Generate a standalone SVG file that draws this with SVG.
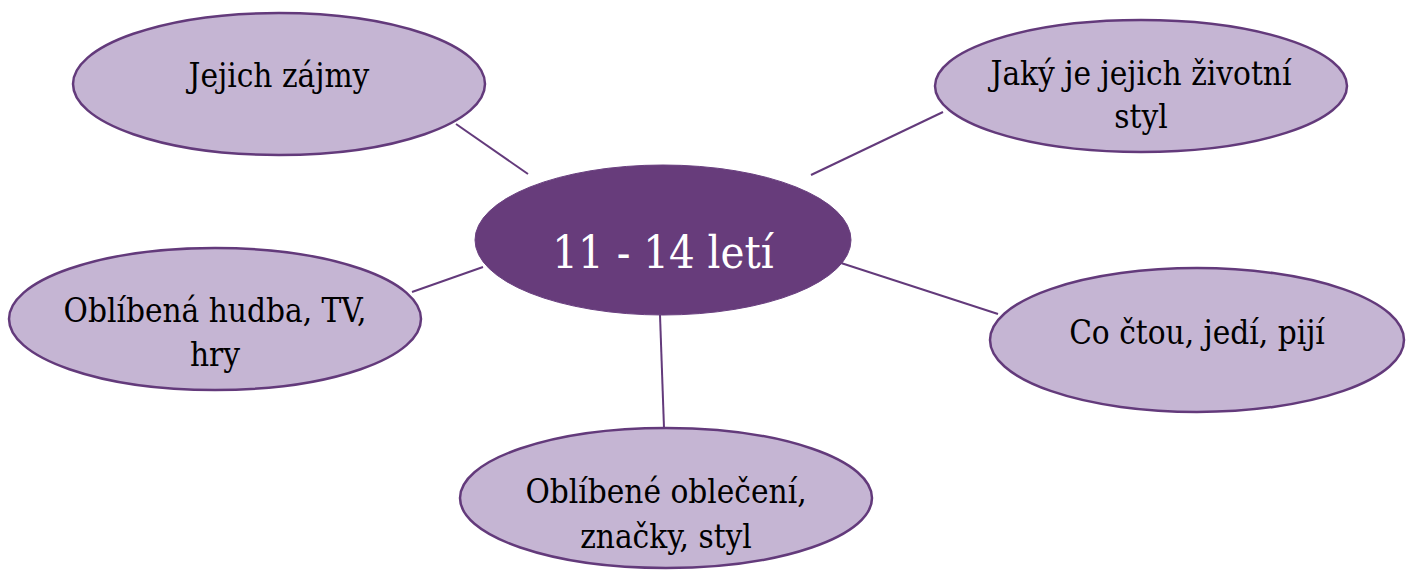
<svg xmlns="http://www.w3.org/2000/svg" width="1413" height="570" viewBox="0 0 1413 570">
<style>
.leaf{fill:#c5b5d3;stroke:#633a7b;stroke-width:2.5}
.hub{fill:#673c7b;stroke:#6a4080;stroke-width:1}
.lt{font-family:'DejaVu Serif Condensed','DejaVu Serif',serif;font-size:33px;fill:#000;text-anchor:middle}
.ht{font-family:'DejaVu Serif Condensed','DejaVu Serif',serif;font-size:45px;fill:#fff;text-anchor:middle}
.conn line{stroke:#633a7b;stroke-width:2}
</style>
<rect width="1413" height="570" fill="#fff"/>
<g id="connectors" class="conn">
<line x1="456" y1="124" x2="528" y2="174"/>
<line x1="943" y1="112" x2="811" y2="175"/>
<line x1="412" y1="292" x2="483" y2="267"/>
<line x1="998" y1="314" x2="841" y2="263"/>
<line x1="660" y1="315" x2="664" y2="428"/>
</g>
<g id="hub">
<ellipse class="hub" cx="663" cy="240" rx="188" ry="75"/>
<text class="ht" x="663" y="268">11 - 14 letí</text>
</g>
<g id="zajmy">
<ellipse class="leaf" cx="279" cy="84" rx="206" ry="71"/>
<text class="lt" x="279" y="87">Jejich zájmy</text>
</g>
<g id="styl">
<ellipse class="leaf" cx="1141" cy="86" rx="206" ry="66"/>
<text class="lt" x="1141" y="85">Jaký je jejich životní</text>
<text class="lt" x="1141" y="128">styl</text>
</g>
<g id="hudba">
<ellipse class="leaf" cx="215" cy="319" rx="206" ry="71"/>
<text class="lt" x="215" y="322">Oblíbená hudba, TV,</text>
<text class="lt" x="215" y="366">hry</text>
</g>
<g id="ctou">
<ellipse class="leaf" cx="1197" cy="340" rx="207" ry="72"/>
<text class="lt" x="1197" y="344">Co čtou, jedí, pijí</text>
</g>
<g id="obleceni">
<ellipse class="leaf" cx="666" cy="498" rx="206" ry="70"/>
<text class="lt" x="666" y="503">Oblíbené oblečení,</text>
<text class="lt" x="666" y="548">značky, styl</text>
</g>
</svg>
